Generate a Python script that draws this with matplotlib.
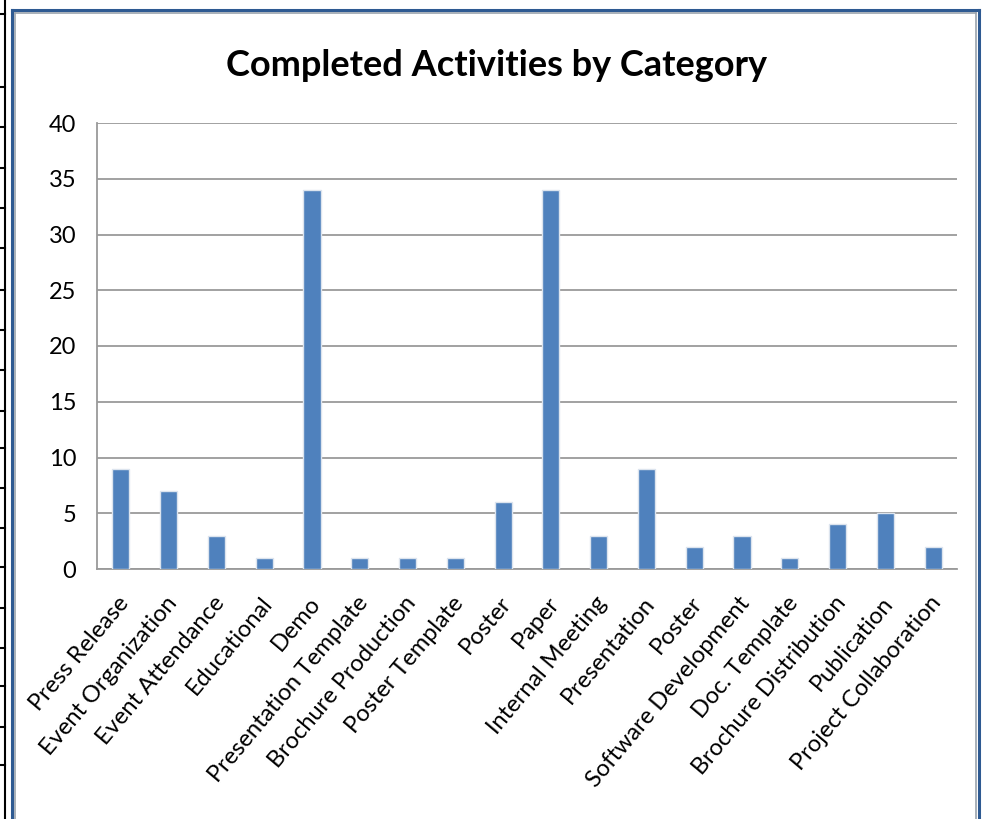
import numpy as np
import matplotlib.pyplot as plt
import matplotlib.transforms as mtransforms
from matplotlib.lines import Line2D

categories = ['Press Release', 'Event Organization', 'Event Attendance', 'Educational',
              'Demo', 'Presentation Template', 'Brochure Production', 'Poster Template',
              'Poster', 'Paper', 'Internal Meeting', 'Presentation', 'Poster',
              'Software Development', 'Doc. Template', 'Brochure Distribution',
              'Publication', 'Project Collaboration']
counts = [9, 7, 3, 1, 34, 1, 1, 1, 6, 34, 3, 9, 2, 3, 1, 4, 5, 2]
yticks = [0, 5, 10, 15, 20, 25, 30, 35, 40]

plt.rcParams['font.family'] = ['Lato', 'DejaVu Sans']

W, H = 986, 819
fig = plt.figure(figsize=(W / 100, H / 100), dpi=100)
ax = fig.add_axes([97 / W, 1 - 569 / H, 860 / W, 446 / H])

x = np.arange(len(categories))
ax.bar(x, counts, width=0.36, color='#4F81BD', edgecolor='#dce4ee', linewidth=1, zorder=3)

ax.set_xlim(-0.5, len(categories) - 0.5)
ax.set_ylim(0, 40)
ax.set_yticks(yticks)
ax.set_yticklabels([str(v) for v in yticks], fontsize=17)
ax.set_xticks(x)
ax.set_xticklabels(categories, rotation=50, ha='right', va='top',
                   rotation_mode='anchor', fontsize=17)
ax.tick_params(axis='both', length=0)
ax.tick_params(axis='y', pad=15)
ax.tick_params(axis='x', pad=17)
shift = mtransforms.ScaledTranslation(-4 / 100, 0, fig.dpi_scale_trans)
for lab in ax.get_xticklabels():
    lab.set_transform(lab.get_transform() + shift)

ax.grid(axis='y', color='#9a9a9a', linewidth=1.3, zorder=0)
for s in ['top', 'right']:
    ax.spines[s].set_visible(False)
for s in ['left', 'bottom']:
    ax.spines[s].set_color('#9a9a9a')
    ax.spines[s].set_linewidth(1.3)

fig.text(497 / W, 1 - 65 / H, 'Completed Activities by Category', ha='center', va='center',
         fontsize=26, fontweight='bold')

# chart frame (double blue line)
def px_line(xs, ys, **kw):
    fig.add_artist(Line2D([v / W for v in xs], [1 - v / H for v in ys], **kw))

for off, col, lw in [(0, '#2E5A92', 2.2), (3, '#9aa3ad', 1.2)]:
    px_line([12 + off, 12 + off], [10 + off, H], color=col, linewidth=lw)
    px_line([12 + off, 979 - off], [10 + off, 10 + off], color=col, linewidth=lw)
    px_line([979 - off, 979 - off], [10 + off, H], color=col, linewidth=lw)

# spreadsheet grid peeking out on the left
px_line([5, 5], [0, H], color='black', linewidth=1.5)
for yy in [14, 87, 127, 168, 208, 248, 290, 330, 370, 411, 448, 488, 528, 567,
           608, 648, 686, 727, 765]:
    px_line([0, 5], [yy, yy], color='black', linewidth=1.5)

fig.savefig('out.png', dpi=100)
